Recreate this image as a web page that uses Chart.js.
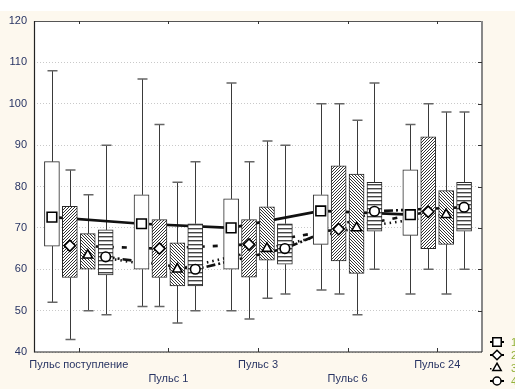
<!DOCTYPE html>
<html>
<head>
<meta charset="utf-8">
<script src="https://cdn.jsdelivr.net/npm/chart.js@4/dist/chart.umd.min.js"></script>
<style>
    html, body { margin: 0; padding: 0; background: #fff; }
    #wrap { width: 515px; height: 389px; }
</style>
</head>
<body>
<div id="wrap"><canvas id="myChart"></canvas></div>
<script>
// categories and series names
var categories = ['Пульс поступление', 'Пульс 1', 'Пульс 3', 'Пульс 6', 'Пульс 24'];
var seriesNames = ['1', '2', '3', '4'];
var yMin = 40, yMax = 120, yStep = 10;

// series 1 : min / q1 / median / q3 / max
var s1Min = [52, 51, 50, 55, 54];
var s1Q1  = [65.6, 60, 60, 66, 68.2];
var s1Med = [72.6, 71, 70, 74.1, 73.2];
var s1Q3  = [86, 78, 77, 78, 84];
var s1Max = [108, 106, 105, 100, 95];

// series 2
var s2Min = [43, 51, 48, 54, 60];
var s2Q1  = [58, 58, 58.1, 62, 65];
var s2Med = [65.7, 65, 66, 69.7, 73.9];
var s2Q3  = [75.2, 72, 72, 85, 92];
var s2Max = [84, 95, 86, 100, 100];

// series 3
var s3Min = [50, 47, 53, 49, 54];
var s3Q1  = [60, 56, 62.2, 59, 66];
var s3Med = [63.4, 60, 65, 70, 73.2];
var s3Q3  = [68.6, 66.4, 75.1, 83, 79];
var s3Max = [78, 81, 91, 96, 98];

// series 4
var s4Min = [49, 50, 54, 60, 60];
var s4Q1  = [58.6, 56, 61.2, 69.2, 69.2];
var s4Med = [63, 60, 65, 74, 75];
var s4Q3  = [69.5, 71, 71, 81, 81];
var s4Max = [90, 86, 90, 105, 98];

var series = [
    {min: s1Min, q1: s1Q1, med: s1Med, q3: s1Q3, max: s1Max},
    {min: s2Min, q1: s2Q1, med: s2Med, q3: s2Q3, max: s2Max},
    {min: s3Min, q1: s3Q1, med: s3Med, q3: s3Q3, max: s3Max},
    {min: s4Min, q1: s4Q1, med: s4Med, q3: s4Q3, max: s4Max}
];

var pointStyles = ['rect', 'rectRot', 'triangle', 'circle'];
var pointSizes = [6.8, 5.6, 5.6, 4.8];
var dashes = [[], [5, 8], [1.5, 4], [9, 3, 2, 3]];
var tickColor = '#283463';
var font = '"Liberation Sans", Arial, sans-serif';

// hatch fills
function makePattern(kind) {
    var c = document.createElement('canvas');
    var ctx = c.getContext('2d');
    if (kind === 'white') {
        return '#ffffff';
    }
    if (kind === 'hstripe') {
        c.width = 4; c.height = 4;
        ctx.fillStyle = '#fff';
        ctx.fillRect(0, 0, 4, 4);
        ctx.fillStyle = '#444';
        ctx.fillRect(0, 0, 4, 1.4);
        return ctx.createPattern(c, 'repeat');
    }
    c.width = 3; c.height = 3;
    ctx.fillStyle = '#fff';
    ctx.fillRect(0, 0, 3, 3);
    ctx.strokeStyle = '#333';
    ctx.lineWidth = 1;
    ctx.beginPath();
    if (kind === 'fwd') {
        ctx.moveTo(-1, 4); ctx.lineTo(4, -1);
        ctx.moveTo(-4, 4); ctx.lineTo(1, -1);
        ctx.moveTo(2, 4); ctx.lineTo(7, -1);
    } else {
        ctx.moveTo(-1, -1); ctx.lineTo(4, 4);
        ctx.moveTo(-4, -1); ctx.lineTo(1, 4);
        ctx.moveTo(2, -1); ctx.lineTo(7, 4);
    }
    ctx.stroke();
    return ctx.createPattern(c, 'repeat');
}
var fills = [makePattern('white'), makePattern('fwd'), makePattern('back'), makePattern('hstripe')];

// datasets: every series sits at its own offset inside the category
var datasets = [];
series.forEach(function (s, k) {
    var off = (k - 1.5) * 0.2;
    var pts = s.med.map(function (v, i) { return {x: i + off, y: v}; });
    // connecting line, behind the boxes
    datasets.push({
        type: 'line', label: 'line' + k, xAxisID: 'x2', data: pts,
        borderColor: '#111', borderWidth: 2.6, borderDash: dashes[k],
        pointRadius: 0, fill: false, tension: 0, order: 3
    });
    // the box q1..q3
    datasets.push({
        type: 'bar', label: seriesNames[k], xAxisID: 'x2',
        data: s.q1.map(function (v, i) { return {x: i + off, y: [v, s.q3[i]]}; }),
        backgroundColor: fills[k], borderColor: '#2a2a2a', borderWidth: 1,
        borderSkipped: false, grouped: false, barThickness: 15, order: 2
    });
    // median markers, on top
    datasets.push({
        type: 'line', label: 'pt' + k, xAxisID: 'x2', data: pts, showLine: false,
        pointStyle: pointStyles[k], pointRadius: pointSizes[k],
        pointBackgroundColor: '#fff', pointBorderColor: '#000', pointBorderWidth: 1.6,
        order: 1
    });
});

var bgPlugin = {
    id: 'bg',
    beforeDraw: function (chart) {
        var ctx = chart.ctx, a = chart.chartArea;
        ctx.save();
        ctx.fillStyle = '#fff';
        ctx.fillRect(0, 0, chart.width, chart.height);
        ctx.fillStyle = '#fdf8ee';
        ctx.fillRect(0, 11, chart.width, chart.height - 11);
        ctx.fillStyle = '#fff';
        ctx.fillRect(a.left, a.top, a.right - a.left, a.bottom - a.top);
        ctx.restore();
    }
};

// whiskers from min/max arrays
var whiskerPlugin = {
    id: 'whiskers',
    beforeDatasetsDraw: function (chart) {
        var ctx = chart.ctx, y = chart.scales.y, x2 = chart.scales.x2;
        ctx.save();
        series.forEach(function (s, k) {
            var off = (k - 1.5) * 0.2;
            s.max.forEach(function (mx, i) {
                var x = Math.round(x2.getPixelForValue(i + off)) + 0.5;
                var yTop = y.getPixelForValue(mx);
                var yQ3 = y.getPixelForValue(s.q3[i]);
                var yQ1 = y.getPixelForValue(s.q1[i]);
                var yBot = y.getPixelForValue(s.min[i]);
                ctx.strokeStyle = '#3a3a3a';
                ctx.lineWidth = 1;
                ctx.beginPath();
                ctx.moveTo(x, yTop); ctx.lineTo(x, yQ3);
                ctx.moveTo(x, yQ1); ctx.lineTo(x, yBot);
                ctx.stroke();
                ctx.strokeStyle = '#666';
                ctx.lineWidth = 1.5;
                ctx.beginPath();
                ctx.moveTo(x - 5, yTop); ctx.lineTo(x + 5, yTop);
                ctx.moveTo(x - 5, yBot); ctx.lineTo(x + 5, yBot);
                ctx.stroke();
            });
        });
        ctx.restore();
    }
};

// frame, inner ticks and legend
var framePlugin = {
    id: 'frame',
    afterDraw: function (chart) {
        var ctx = chart.ctx, a = chart.chartArea;
        var xs = chart.scales.x, ys = chart.scales.y;
        ctx.save();
        ctx.lineWidth = 1;
        ctx.strokeStyle = '#555';
        ctx.beginPath();
        ctx.moveTo(a.left, a.top + 0.5); ctx.lineTo(a.right, a.top + 0.5);
        ctx.stroke();
        ctx.strokeStyle = '#888';
        ctx.lineWidth = 2;
        ctx.beginPath();
        ctx.moveTo(a.right, a.top); ctx.lineTo(a.right, a.bottom);
        ctx.stroke();
        ctx.strokeStyle = '#222';
        ctx.lineWidth = 1.2;
        ctx.beginPath();
        ctx.moveTo(a.left + 0.5, a.top); ctx.lineTo(a.left + 0.5, a.bottom);
        ctx.lineTo(a.right, a.bottom);
        ctx.stroke();
        // ticks
        ctx.lineWidth = 1;
        ctx.strokeStyle = '#333';
        ctx.beginPath();
        categories.forEach(function (c, i) {
            var x = Math.round(xs.getPixelForValue(i)) + 0.5;
            ctx.moveTo(x, a.top); ctx.lineTo(x, a.top + 3);
            ctx.moveTo(x, a.bottom); ctx.lineTo(x, a.bottom - 4);
        });
        for (var v = yMin + yStep; v < yMax; v += yStep) {
            var yy = Math.round(ys.getPixelForValue(v)) + 0.5;
            ctx.moveTo(a.right, yy); ctx.lineTo(a.right - 4, yy);
        }
        ctx.stroke();

        // legend
        var lx = 497, ly = 342;
        seriesNames.forEach(function (name, k) {
            var yy = ly + k * 13;
            ctx.strokeStyle = '#000';
            ctx.lineWidth = 2;
            ctx.beginPath();
            if (k === 2) {
                ctx.fillStyle = '#000';
                ctx.fillRect(lx - 7, yy, 1.5, 1.5);
            } else {
                ctx.moveTo(lx - 7, yy); ctx.lineTo(lx + 7, yy);
            }
            ctx.stroke();
            ctx.fillStyle = '#fff';
            ctx.strokeStyle = '#000';
            ctx.lineWidth = 1.5;
            Chart.helpers.drawPoint(ctx, {pointStyle: pointStyles[k], radius: pointSizes[k] - 0.8, borderWidth: 1.5, rotation: 0}, lx, yy);
            ctx.fillStyle = '#93b23a';
            ctx.font = '11px ' + font;
            ctx.textBaseline = 'middle';
            ctx.fillText(name, lx + 14, yy + 1);
        });
        ctx.restore();
    }
};

var chartBlock = document.getElementById('myChart');
var myChart = new Chart(chartBlock, {
    type: 'bar',
    data: {
        labels: categories,
        datasets: datasets
    },
    options: {
        responsive: true,
        maintainAspectRatio: false,
        animation: false,
        layout: { padding: { top: 21, right: 33, left: 0, bottom: 0 } },
        plugins: {
            legend: { display: false },
            tooltip: { enabled: false }
        },
        scales: {
            x: {
                offset: true,
                grid: { display: false },
                border: { display: false },
                ticks: {
                    color: tickColor,
                    padding: -2,
                    maxRotation: 0,
                    autoSkip: false,
                    font: { family: font, size: 11, lineHeight: '14px' },
                    callback: function (val, i) {
                        return i % 2 ? ['', categories[i]] : categories[i];
                    }
                },
                afterFit: function (scale) { scale.height = 37; }
            },
            x2: {
                type: 'linear', display: false, min: -0.5, max: 4.5,
                offset: false, grid: { offset: false }
            },
            y: {
                min: yMin, max: yMax,
                grid: { color: '#c9c9c9', drawTicks: false },
                border: { display: false, dash: [1, 2] },
                ticks: {
                    stepSize: yStep,
                    color: tickColor,
                    padding: 7,
                    font: { family: font, size: 11 }
                },
                afterFit: function (scale) { scale.width = 34; }
            }
        }
    },
    plugins: [bgPlugin, whiskerPlugin, framePlugin]
});
</script>
</body>
</html>
